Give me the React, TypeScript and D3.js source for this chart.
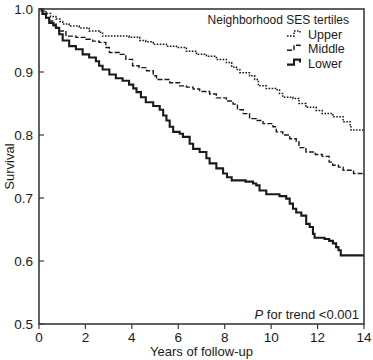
import React from "react";
import * as d3 from "d3";

const xTicks = [0, 2, 4, 6, 8, 10, 12, 14];
const yTicks = [0.5, 0.6, 0.7, 0.8, 0.9, 1.0];
const seriesNames = ["Upper", "Middle", "Lower"];
const legendTitle = "Neighborhood SES tertiles";

const upperCurve: [number, number][] = [
  [0, 1.0], [0.1, 0.997], [0.3, 0.993], [0.5, 0.988], [0.73, 0.984], [0.9, 0.98], [1.02, 0.976],
  [1.3, 0.973], [1.73, 0.97], [2.16, 0.965], [2.59, 0.963], [2.74, 0.957], [3.31, 0.957], [3.88, 0.955],
  [4.34, 0.95], [4.6, 0.948], [4.92, 0.944], [5.49, 0.941], [5.92, 0.939], [6.35, 0.933], [6.78, 0.928],
  [7.21, 0.925], [7.64, 0.92], [8.07, 0.915], [8.3, 0.908], [8.5, 0.904], [8.65, 0.899], [9.07, 0.894],
  [9.29, 0.888], [9.45, 0.878], [9.79, 0.874], [10.2, 0.872], [10.36, 0.866], [10.5, 0.86], [10.94, 0.858],
  [11.2, 0.85], [11.5, 0.844], [11.94, 0.839], [12.2, 0.834], [12.66, 0.829], [13.1, 0.821], [13.4, 0.813],
  [13.44, 0.808], [14, 0.808],
];

const middleCurve: [number, number][] = [
  [0, 1.0], [0.15, 0.993], [0.3, 0.986], [0.45, 0.981], [0.59, 0.976], [0.75, 0.97], [0.87, 0.965],
  [1.16, 0.957], [1.59, 0.955], [2.02, 0.952], [2.31, 0.949], [2.59, 0.947], [2.88, 0.939], [3.03, 0.931],
  [3.46, 0.928], [3.74, 0.92], [4.03, 0.91], [4.31, 0.907], [4.63, 0.902], [4.92, 0.894], [5.06, 0.888],
  [5.63, 0.883], [6.06, 0.878], [6.35, 0.876], [6.64, 0.873], [6.92, 0.869], [7.35, 0.865], [7.64, 0.859],
  [8.07, 0.854], [8.36, 0.849], [8.55, 0.84], [8.8, 0.834], [9.07, 0.826], [9.36, 0.823], [9.65, 0.818],
  [10.08, 0.813], [10.22, 0.805], [10.5, 0.8], [10.8, 0.794], [11.08, 0.789], [11.2, 0.78], [11.5, 0.773],
  [11.9, 0.769], [12.2, 0.766], [12.5, 0.757], [12.65, 0.752], [12.9, 0.749], [13.1, 0.744], [13.55, 0.739],
  [14, 0.737],
];

const lowerCurve: [number, number][] = [
  [0, 1.0], [0.15, 0.992], [0.3, 0.986], [0.44, 0.978], [0.62, 0.974], [0.73, 0.97], [0.87, 0.96],
  [1.02, 0.95], [1.3, 0.941], [1.59, 0.936], [1.88, 0.928], [2.16, 0.923], [2.45, 0.917], [2.59, 0.91],
  [2.74, 0.904], [3.03, 0.896], [3.31, 0.89], [3.6, 0.886], [3.88, 0.88], [4.06, 0.874], [4.2, 0.868],
  [4.39, 0.86], [4.6, 0.852], [4.92, 0.846], [5.2, 0.84], [5.35, 0.831], [5.49, 0.823], [5.63, 0.813],
  [5.78, 0.805], [6.06, 0.802], [6.2, 0.797], [6.49, 0.786], [6.64, 0.778], [6.92, 0.773], [7.21, 0.763],
  [7.35, 0.755], [7.64, 0.747], [7.93, 0.739], [8.1, 0.733], [8.3, 0.728], [8.9, 0.726], [9.22, 0.723],
  [9.36, 0.72], [9.5, 0.712], [9.79, 0.706], [10.36, 0.703], [10.65, 0.699], [10.8, 0.691], [10.94, 0.683],
  [11.08, 0.677], [11.3, 0.672], [11.51, 0.659], [11.66, 0.654], [11.8, 0.643], [11.87, 0.637],
  [12.3, 0.635], [12.5, 0.632], [12.66, 0.628], [12.8, 0.622], [12.9, 0.617], [13.0, 0.609], [14, 0.609],
];

const curves = [upperCurve, middleCurve, lowerCurve];
const dashes = ["1.6 1.4", "5 2", ""];
const widths = [1.5, 1.4, 2.1];

export default function App() {
  const width = 373;
  const height = 360;
  const m = { left: 39, right: 9, top: 9, bottom: 36 };
  const x = d3.scaleLinear().domain([0, 14]).range([m.left, width - m.right]);
  const y = d3.scaleLinear().domain([0.5, 1.0]).range([height - m.bottom, m.top]);
  const line = d3
    .line<[number, number]>()
    .x((d) => x(d[0]))
    .y((d) => y(d[1]))
    .curve(d3.curveStepAfter);
  const font = "'Liberation Sans', Arial, sans-serif";
  const ink = "#1a1a1a";
  const axisCol = "#3a3a3a";

  const legendX = 287;
  const legendY0 = 39;
  const legendDy = 14.3;

  return (
    <svg
      width={width}
      height={height}
      style={{ position: "absolute", left: 0, top: 0, background: "#fff" }}
      fontFamily={font}
    >
      {curves.map((c, i) => (
        <path
          key={i}
          d={line(c) || ""}
          fill="none"
          stroke={ink}
          strokeWidth={widths[i]}
          strokeDasharray={dashes[i] || undefined}
        />
      ))}
      <rect
        x={x(0)}
        y={y(1)}
        width={x(14) - x(0)}
        height={y(0.5) - y(1)}
        fill="none"
        stroke={axisCol}
        strokeWidth={1.6}
      />
      {yTicks.map((t) => (
        <g key={"y" + t}>
          <line x1={x(0)} x2={x(0) + 5} y1={y(t)} y2={y(t)} stroke={axisCol} strokeWidth={1.2} />
          <text x={x(0) - 6} y={y(t)} dy="0.36em" textAnchor="end" fontSize={13.5} fill={ink}>
            {t.toFixed(1)}
          </text>
        </g>
      ))}
      {xTicks.map((t) => (
        <g key={"x" + t}>
          <line x1={x(t)} x2={x(t)} y1={y(0.5)} y2={y(0.5) + 5} stroke={axisCol} strokeWidth={1.2} />
          <text x={x(t)} y={y(0.5) + 18} textAnchor="middle" fontSize={13.5} fill={ink}>
            {t}
          </text>
        </g>
      ))}
      <text x={(x(0) + x(14)) / 2} y={356} textAnchor="middle" fontSize={13} fill={ink}>
        Years of follow-up
      </text>
      <text
        transform={`translate(14, ${(y(0.5) + y(1)) / 2}) rotate(-90)`}
        textAnchor="middle"
        fontSize={13}
        fill={ink}
      >
        Survival
      </text>
      <text x={349} y={24} textAnchor="end" fontSize={12} fill={ink}>
        {legendTitle}
      </text>
      {seriesNames.map((n, i) => {
        const yb = legendY0 + i * legendDy;
        return (
          <g key={n}>
            <path
              d={`M${legendX},${yb - 3} L${legendX + 7},${yb - 3} L${legendX + 7},${yb - 8} L${legendX + 13},${yb - 8} L${legendX + 13},${yb - 5}`}
              fill="none"
              stroke={ink}
              strokeWidth={widths[i]}
              strokeDasharray={dashes[i] || undefined}
            />
            <text x={legendX + 21} y={yb} fontSize={12.5} fill={ink}>
              {n}
            </text>
          </g>
        );
      })}
      <text x={359} y={319} textAnchor="end" fontSize={13} fill={ink}>
        <tspan fontStyle="italic">P</tspan> for trend &lt;0.001
      </text>
    </svg>
  );
}
